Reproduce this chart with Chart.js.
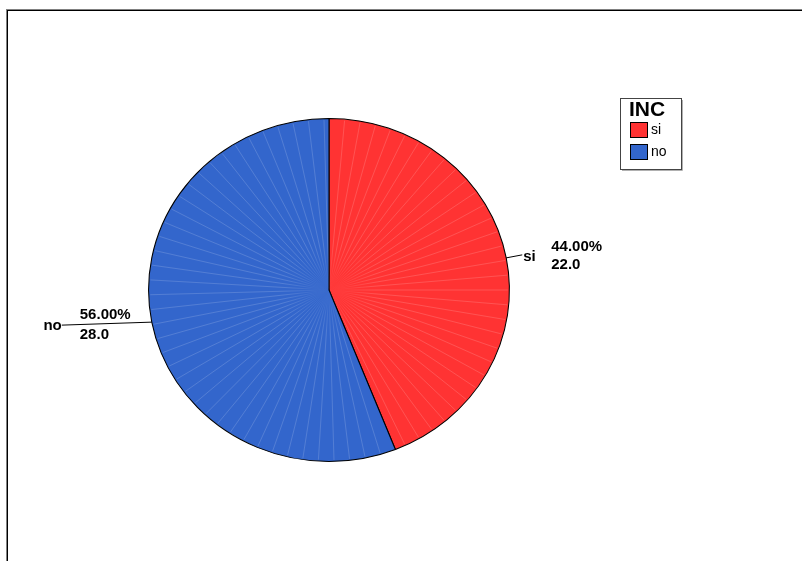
<!DOCTYPE html>
<html>
<head>
<meta charset="utf-8">
<script src="https://cdn.jsdelivr.net/npm/chart.js@4/dist/chart.umd.min.js"></script>
<style>
  html, body { margin: 0; padding: 0; background: #fff; }
  #wrap { position: relative; width: 802px; height: 561px; overflow: hidden; }
  #frame { position: absolute; left: 6px; top: 9px; width: 830px; height: 600px;
           border-top: 1px solid #808080; border-left: 1px solid #808080; }
  #frame div { position: absolute; left: 0; top: 0; right: 0; bottom: 0;
               border-top: 1px solid #000; border-left: 1px solid #000; }
  #pie { position: absolute; left: 0; top: 0; }
</style>
</head>
<body>
<div id="wrap">
  <div id="frame"><div></div></div>
  <canvas id="pie" width="802" height="561"></canvas>
</div>
<script>
// 数据
const categories = ['si', 'no'];
const counts = [22, 28];
const sliceColors = ['#FF3333', '#3366CC'];
const legendTitle = 'INC';

const total = counts.reduce((a, b) => a + b, 0);
const percentLabels = counts.map(c => (c / total * 100).toFixed(2) + '%');
const countLabels = counts.map(c => c.toFixed(1));

const FONT = 'Arial, "Liberation Sans", sans-serif';
// 原图的饼略呈横向椭圆
const STRETCH_X = 1.052;

// 横向拉伸饼图，并加上浅色放射线（模仿 SPSS 的分段填充）
const ellipse = {
  id: 'ellipse',
  beforeDatasetsDraw(chart) {
    const arc = chart.getDatasetMeta(0).data[0];
    const ctx = chart.ctx;
    ctx.save();
    ctx.translate(arc.x, arc.y);
    ctx.scale(STRETCH_X, 1);
    ctx.translate(-arc.x, -arc.y);
  },
  afterDatasetsDraw(chart) {
    const ctx = chart.ctx;
    const meta = chart.getDatasetMeta(0);
    ctx.lineWidth = 0.7;
    meta.data.forEach(arc => {
      const { x, y, startAngle, endAngle, outerRadius } = arc.getProps(['x', 'y', 'startAngle', 'endAngle', 'outerRadius']);
      const grad = ctx.createRadialGradient(x, y, 0, x, y, 45);
      grad.addColorStop(0, 'rgba(255,255,255,0)');
      grad.addColorStop(1, 'rgba(255,255,255,0.22)');
      ctx.strokeStyle = grad;
      const step = Math.PI / 36;
      for (let a = startAngle + step; a < endAngle - step * 0.3; a += step) {
        ctx.beginPath();
        ctx.moveTo(x, y);
        ctx.lineTo(x + Math.cos(a) * (outerRadius - 1.5), y + Math.sin(a) * (outerRadius - 1.5));
        ctx.stroke();
      }
    });
    ctx.restore();
  }
};

// 扇区标签和引导线
const sliceLabels = {
  id: 'sliceLabels',
  afterDraw(chart) {
    const ctx = chart.ctx;
    const meta = chart.getDatasetMeta(0);
    ctx.save();
    ctx.fillStyle = '#000';
    ctx.strokeStyle = '#000';
    ctx.lineWidth = 1;
    ctx.textBaseline = 'middle';
    ctx.font = 'bold 15px ' + FONT;
    meta.data.forEach((arc, i) => {
      const { x, y, startAngle, endAngle, outerRadius } = arc.getProps(['x', 'y', 'startAngle', 'endAngle', 'outerRadius']);
      const mid = (startAngle + endAngle) / 2;
      const ex = x + Math.cos(mid) * outerRadius * STRETCH_X;
      const ey = y + Math.sin(mid) * outerRadius;
      if (Math.cos(mid) >= 0) {
        // 右侧
        ctx.beginPath();
        ctx.moveTo(ex, ey);
        ctx.lineTo(ex + 16, ey - 3);
        ctx.stroke();
        ctx.textAlign = 'left';
        ctx.fillText(categories[i], ex + 17, ey - 1);
        ctx.fillText(percentLabels[i], ex + 45, ey - 11);
        ctx.fillText(countLabels[i], ex + 45, ey + 7);
      } else {
        // 左侧
        ctx.beginPath();
        ctx.moveTo(ex, ey);
        ctx.lineTo(ex - 90, ey + 3);
        ctx.stroke();
        ctx.textAlign = 'right';
        ctx.fillText(categories[i], ex - 90, ey + 4);
        ctx.textAlign = 'left';
        ctx.fillText(percentLabels[i], ex - 72, ey - 7);
        ctx.fillText(countLabels[i], ex - 72, ey + 13);
      }
    });
    ctx.restore();
  }
};

// 图例框
const boxLegend = {
  id: 'boxLegend',
  afterDraw(chart) {
    const ctx = chart.ctx;
    const bx = 620, by = 98, bw = 61, bh = 71;
    ctx.save();
    ctx.fillStyle = '#fff';
    ctx.fillRect(bx, by, bw, bh);
    ctx.strokeStyle = '#b0b0b0';
    ctx.lineWidth = 1;
    ctx.beginPath();
    ctx.moveTo(bx + bw + 1.5, by + 2);
    ctx.lineTo(bx + bw + 1.5, by + bh + 1.5);
    ctx.lineTo(bx + 2, by + bh + 1.5);
    ctx.stroke();
    ctx.strokeStyle = '#444';
    ctx.strokeRect(bx + 0.5, by + 0.5, bw, bh);

    ctx.fillStyle = '#000';
    ctx.textBaseline = 'middle';
    ctx.textAlign = 'left';
    ctx.font = 'bold 21px ' + FONT;
    ctx.fillText(legendTitle, 629, 110);

    ctx.font = '14px ' + FONT;
    categories.forEach((c, i) => {
      const sy = 122 + i * 22;
      ctx.fillStyle = sliceColors[i];
      ctx.fillRect(630, sy, 18, 16);
      ctx.strokeStyle = '#000';
      ctx.strokeRect(630.5, sy + 0.5, 17, 15);
      ctx.fillStyle = '#000';
      ctx.fillText(c, 651, sy + 8);
    });
    ctx.restore();
  }
};

new Chart(document.getElementById('pie').getContext('2d'), {
  type: 'pie',
  data: {
    labels: categories,
    datasets: [{
      data: counts,
      backgroundColor: sliceColors,
      borderColor: '#000',
      borderWidth: 1,
      hoverOffset: 0,
      offset: 0
    }]
  },
  options: {
    responsive: false,
    animation: false,
    events: [],
    layout: { padding: { left: 157, top: 118, right: 301, bottom: 99 } },
    plugins: {
      legend: { display: false },
      tooltip: { enabled: false },
      title: { display: false }
    }
  },
  plugins: [ellipse, sliceLabels, boxLegend]
});
</script>
</body>
</html>
